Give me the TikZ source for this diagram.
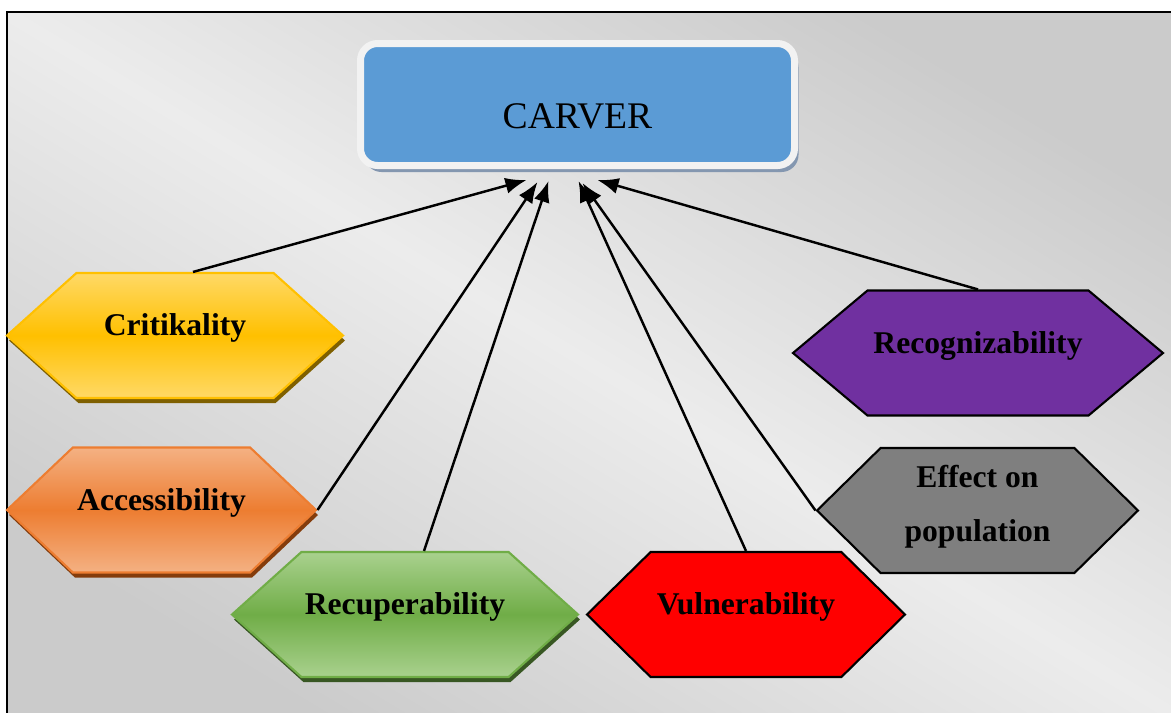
\documentclass[tikz,border=0pt]{standalone}
\usepackage{fontspec}
\setmainfont{Liberation Serif}
\usetikzlibrary{positioning,calc,arrows.meta,shapes.symbols,shadows}

\definecolor{carverblue}{HTML}{5B9BD5}
\definecolor{carverrim}{HTML}{F2F2F2}
\definecolor{carvershade}{HTML}{8497B0}
\definecolor{critmid}{HTML}{FFC000}
\definecolor{critlight}{HTML}{FFD966}
\definecolor{critshade}{HTML}{7F6000}
\definecolor{accmid}{HTML}{ED7D31}
\definecolor{acclight}{HTML}{F4B183}
\definecolor{accshade}{HTML}{843C0C}
\definecolor{recmid}{HTML}{70AD47}
\definecolor{reclight}{HTML}{A9D18E}
\definecolor{recshade}{HTML}{385723}
\definecolor{vulnred}{HTML}{FF0000}
\definecolor{recogpurple}{HTML}{7030A0}
\definecolor{effgray}{HTML}{7F7F7F}
\definecolor{bgdark}{HTML}{CBCBCB}
\definecolor{bglight}{HTML}{ECECEC}

\begin{document}
\begin{tikzpicture}[
        hexbox/.style={signal, signal to=west and east, draw, line width=0.6pt, minimum height=1.25cm, inner sep=0pt, text height=1.1ex, text depth=1.1ex, font=\bfseries\fontsize{9}{15.6}\selectfont},
        hexshadow/.style={drop shadow={shadow xshift=0.02cm, shadow yshift=-0.05cm, opacity=1, fill=#1}},
        title/.style={rectangle, rounded corners=0.17cm, fill=carverblue, draw=carverrim, line width=0.07cm, minimum width=4.34cm, minimum height=1.22cm, text height=14.5pt, text depth=0.6pt, font=\fontsize{10.7}{12}\selectfont, drop shadow={shadow xshift=0.04cm, shadow yshift=-0.065cm, opacity=1, fill=carvershade}},
        arrow/.style={-{Latex[length=6pt,width=4.6pt]}, line width=0.7pt}
    ]

    % Background and frame
    \useasboundingbox (0,0) rectangle (11.71,-7.12);
    \draw[line width=0.8pt, top color=bgdark, bottom color=bgdark, middle color=bglight, shading angle=-31] (0.07,-0.12) rectangle (11.8,-7.2);

    % Top box
    \node[title] (carver) at (5.775,-1.045) {CARVER};

    % Left hexagons
    \node[hexbox, minimum width=3.36cm, signal pointer angle=84, draw=critmid, top color=critlight, bottom color=critlight, middle color=critmid, hexshadow=critshade] (crit) at (1.75,-3.355) {Critikality};
    \node[hexbox, minimum width=3.09cm, signal pointer angle=87, draw=accmid, top color=acclight, bottom color=acclight, middle color=accmid, hexshadow=accshade] (acc) at (1.615,-5.10) {Accessibility};

    % Bottom row
    \node[hexbox, minimum width=3.46cm, signal pointer angle=84, draw=recmid, top color=reclight, bottom color=reclight, middle color=recmid, hexshadow=recshade] (recup) at (4.05,-6.145) {Recuperability};
    \node[hexbox, minimum width=3.18cm, signal pointer angle=89, fill=vulnred] (vuln) at (7.46,-6.145) {Vulnerability};

    % Right hexagons
    \node[hexbox, minimum width=3.70cm, signal pointer angle=80, fill=recogpurple] (recog) at (9.78,-3.53) {Recognizability};
    \node[hexbox, minimum width=3.21cm, signal pointer angle=89, fill=effgray, align=center, text height=19.9pt, text depth=2pt] (effect) at (9.775,-5.105) {Effect on\\population};

    % Connections
    \draw[arrow] ($(crit.north)+(0.18,0)$) -- ($(carver.south)+(-0.51,-0.11)$);
    \draw[arrow] (acc.east) -- ($(carver.south)+(-0.40,-0.13)$);
    \draw[arrow] ($(recup.north)+(0.19,0)$) -- ($(carver.south)+(-0.29,-0.12)$);
    \draw[arrow] (vuln.north) -- ($(carver.south)+(0.01,-0.12)$);
    \draw[arrow] (effect.west) -- ($(carver.south)+(0.05,-0.14)$);
    \draw[arrow] (recog.north) -- ($(carver.south)+(0.20,-0.11)$);

    \end{tikzpicture}
\end{document}
